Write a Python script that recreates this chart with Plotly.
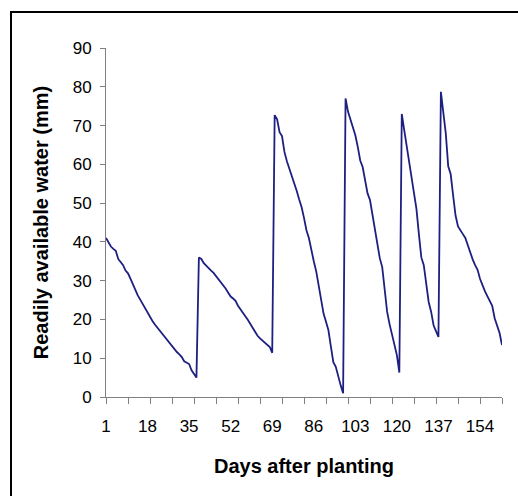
import plotly.graph_objects as go

# Readily available water (mm) per day, split by irrigation cycle
cycle1 = [41.0, 39.8, 38.8, 38.2, 37.7, 35.6, 34.9, 34.0, 32.6, 31.9,
          30.5, 29.0, 27.6, 26.2, 25.1, 24.0, 22.8, 21.5, 20.4, 19.6,
          18.7, 17.9, 17.1, 16.2, 15.4, 14.6, 13.8, 12.9, 12.3, 11.6,
          11.0, 10.3, 9.2, 8.8, 8.5, 6.9, 6.0, 5.0]                     # days 1-38
cycle2 = [36.0, 35.6, 34.5, 33.8, 33.2, 32.6, 32.0, 31.2, 30.4, 29.7,
          28.9, 27.9, 26.9, 25.9, 25.4, 24.8, 23.5, 22.5, 21.8, 20.8,
          19.9, 18.8, 17.7, 16.6, 15.8, 15.1, 14.5, 14.0, 13.5, 12.9, 11.4]  # days 39-69
cycle3 = [72.7, 71.6, 68.3, 67.3, 63.2, 60.8, 59.0, 57.0, 55.3, 53.2,
          51.0, 49.0, 46.2, 43.0, 41.0, 37.8, 35.0, 32.4, 28.5, 25.0,
          21.5, 19.4, 17.2, 13.0, 9.0, 7.8, 5.0, 3.0, 1.0]              # days 70-98
cycle4 = [77.0, 73.6, 71.5, 69.5, 67.5, 64.5, 61.0, 59.3, 56.0, 52.5,
          50.8, 47.0, 43.5, 39.5, 35.8, 33.5, 27.5, 22.0, 18.8, 16.0,
          13.0, 10.8, 6.3]                                              # days 99-121
cycle5 = [73.0, 68.8, 64.5, 61.5, 57.0, 52.8, 48.5, 42.0, 36.0, 34.0,
          29.0, 24.5, 22.0, 18.5, 17.0, 15.5]                           # days 122-137
cycle6 = [78.7, 72.5, 68.0, 59.5, 57.5, 52.0, 46.8, 44.0, 42.8, 42.0,
          41.0, 39.0, 37.3, 35.5, 34.0, 32.8, 30.5, 28.8, 27.3, 26.0,
          24.8, 23.5, 20.3, 18.5, 16.5, 13.4]                           # days 138-163

water = cycle1 + cycle2 + cycle3 + cycle4 + cycle5 + cycle6
days = list(range(1, len(water) + 1))

x_tick_vals = [1, 18, 35, 52, 69, 86, 103, 120, 137, 154]
x_tick_text = [str(v) for v in x_tick_vals]
y_tick_vals = [0, 10, 20, 30, 40, 50, 60, 70, 80, 90]

W, H = 518, 496
ML, MR, MT, MB = 106, 16, 48, 99
PW, PH = W - ML - MR, H - MT - MB

def px2paper_x(px):
    return (px - ML) / PW

def px2paper_y(py):
    return (H - MB - py) / PH

# tick marks every 9 days (offset slightly where they coincide with labelled ticks)
minor_vals = [d + (1e-6 if d in x_tick_vals else 0) for d in range(1, len(water) + 1, 9)]

FONT = "Liberation Sans, Arial, sans-serif"
AXIS_GRAY = "#808080"

fig = go.Figure()
fig.add_trace(go.Scatter(
    x=days, y=water, mode="lines",
    line=dict(color="#1d2080", width=1.8),
    showlegend=False, hoverinfo="x+y",
))

fig.update_layout(
    width=W, height=H,
    margin=dict(l=ML, r=MR, t=MT, b=MB, autoexpand=False),
    paper_bgcolor="white", plot_bgcolor="white",
    font=dict(family=FONT, size=17, color="black"),
    xaxis=dict(
        range=[1, len(water)],
        tickmode="array", tickvals=x_tick_vals, ticktext=x_tick_text,
        ticks="", ticklabelstandoff=14,
        minor=dict(tickmode="array", tickvals=minor_vals,
                   ticks="outside", ticklen=6, tickwidth=1, tickcolor=AXIS_GRAY),
        showline=True, linecolor=AXIS_GRAY, linewidth=1,
        showgrid=False, zeroline=False,
        tickfont=dict(size=17),
        title=dict(text="<b>Days after planting</b>", font=dict(size=20), standoff=23),
    ),
    yaxis=dict(
        range=[0, 90],
        tickmode="array", tickvals=y_tick_vals,
        ticks="outside", ticklen=5, tickwidth=1, tickcolor=AXIS_GRAY,
        ticklabelstandoff=5,
        showline=True, linecolor=AXIS_GRAY, linewidth=1,
        showgrid=False, zeroline=False,
        tickfont=dict(size=17),
        title=dict(text="<b>Readily available water (mm)</b>", font=dict(size=20), standoff=18),
    ),
    shapes=[
        dict(type="line", xref="paper", yref="paper",
             x0=px2paper_x(11), x1=px2paper_x(11),
             y0=px2paper_y(11), y1=px2paper_y(H + 5),
             line=dict(color="black", width=2)),
        dict(type="line", xref="paper", yref="paper",
             x0=px2paper_x(10), x1=px2paper_x(W + 5),
             y0=px2paper_y(12), y1=px2paper_y(12),
             line=dict(color="black", width=2)),
    ],
)

fig.write_html("out.html", config={"displayModeBar": False},
               post_script="document.body.style.margin='0';")
